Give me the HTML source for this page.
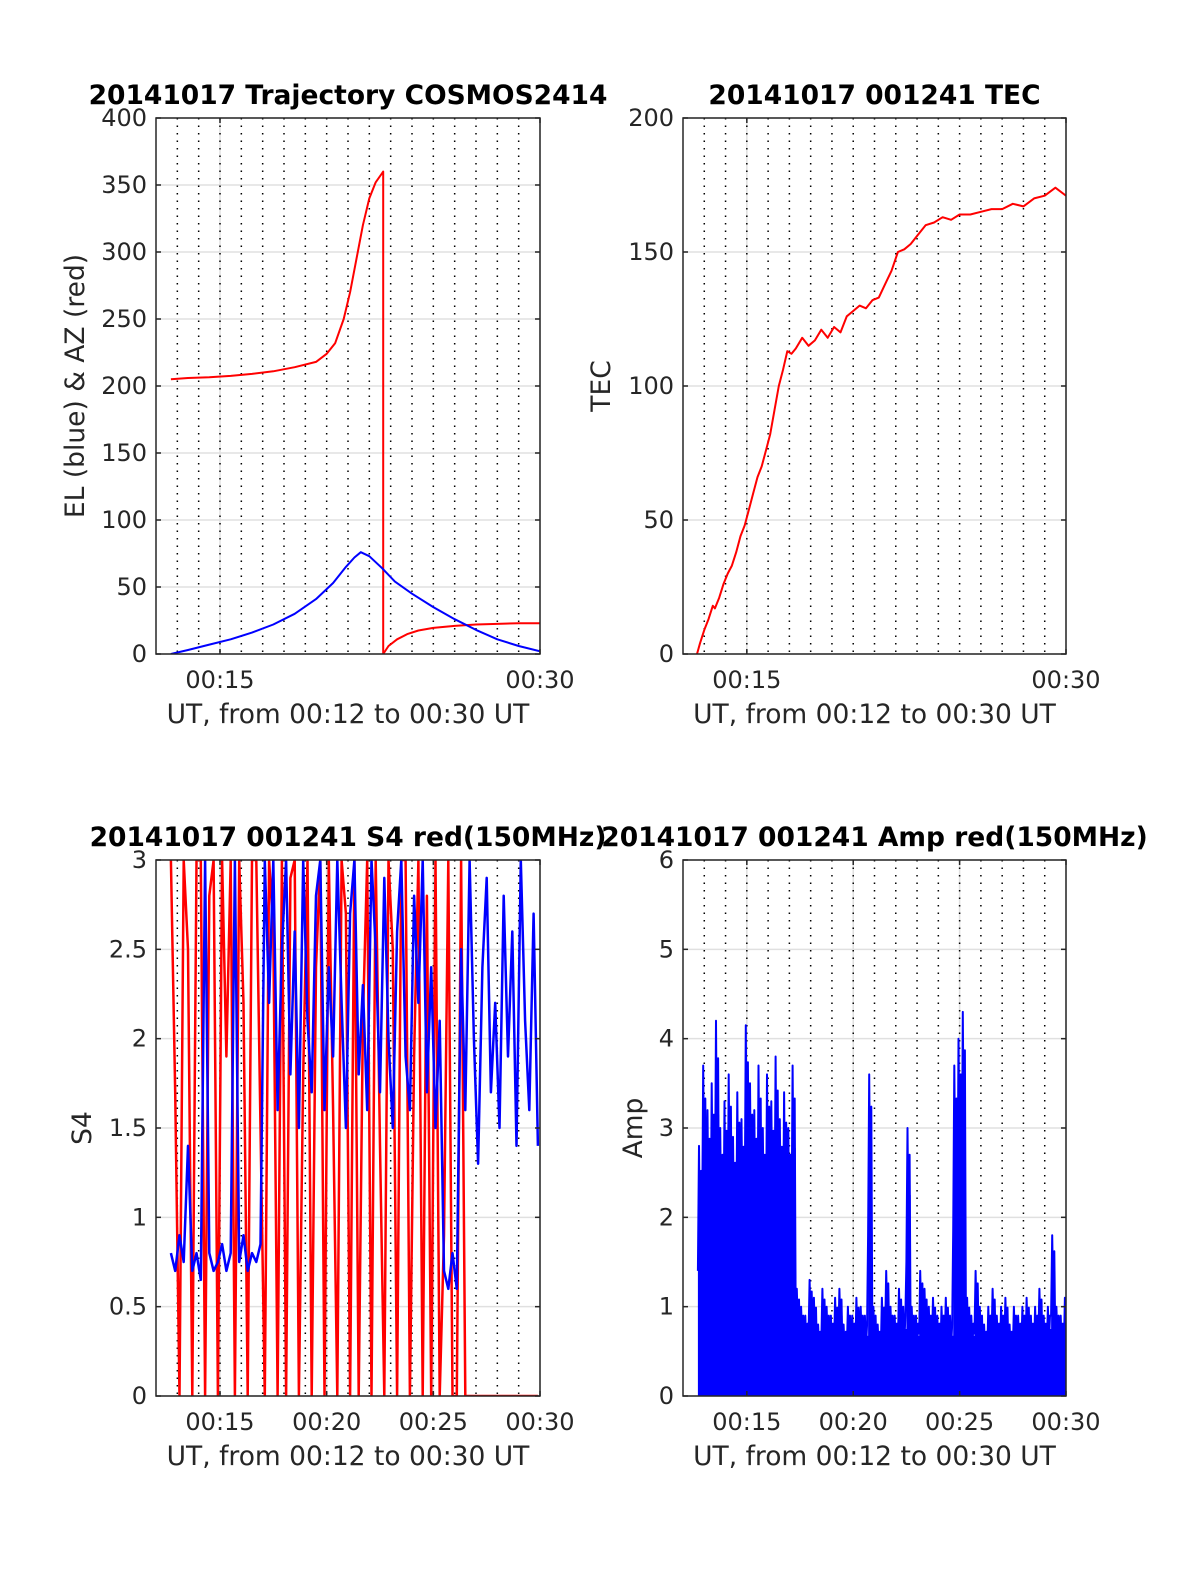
<!DOCTYPE html>
<html><head><meta charset="utf-8"><style>
html,body{margin:0;padding:0;background:#fff;overflow:hidden;width:1200px;height:1575px}
svg{display:block}
svg text{font-family:"DejaVu Sans","Liberation Sans",sans-serif;fill:#262626}
</style></head><body>
<svg id="fig" width="1200" height="1575" viewBox="0 0 1200 1575" xmlns="http://www.w3.org/2000/svg"></svg>
<script>
// ---- data ----
const azT=[12.7,13.5,14.5,15.5,16.5,17.5,18.5,19.5,20,20.4,20.8,21.1,21.4,21.7,22,22.3,22.65];
const azV=[205,206,206.5,207.5,209,211,214,218,224,232,250,270,295,320,340,352,360];
const az2T=[22.65,22.9,23.3,23.8,24.3,25,26,27,28,29,30];
const az2V=[0,6,11,15,17.5,19.5,21,22,22.5,23,23];
const elT=[12.7,13.5,14.5,15.5,16.5,17.5,18.5,19.5,20.3,20.9,21.3,21.6,22,22.6,23.2,24,25,26,27,28,29,30];
const elV=[0,3,7,11,16,22,30,41,53,65,72,76,73,64,54,45,35,26,18,11,6,2];
const tecT=[12.66,12.8,13,13.2,13.4,13.5,13.7,13.9,14.1,14.3,14.5,14.7,14.9,15.1,15.3,15.5,15.7,15.9,16.1,16.3,16.5,16.7,16.9,17.1,17.3,17.6,17.9,18.2,18.5,18.8,19.1,19.4,19.7,20,20.3,20.6,20.9,21.2,21.5,21.8,22.1,22.4,22.7,23,23.4,23.8,24.2,24.6,25,25.5,26,26.5,27,27.5,28,28.5,29,29.5,30];
const tecV=[0,4,9,13,18,17,21,26,30,33,38,44,48,54,60,66,70,76,82,91,100,106,113,112,114,118,115,117,121,118,122,120,126,128,130,129,132,133,138,143,150,151,153,156,160,161,163,162,164,164,165,166,166,168,167,170,171,174,171,172];
const s4Start=12.7, s4Step=0.2;
const s4Blue=[0.8,0.7,0.9,0.75,1.4,0.7,0.8,0.65,3,0.8,0.7,0.75,0.85,0.7,0.8,3,0.75,0.9,0.7,0.8,0.75,0.85,3,
2.2,3,1.6,2.5,3,1.8,2.6,1.5,3,2.1,1.7,2.8,3,1.6,2.4,1.9,3,2.2,1.5,2.7,3,1.8,2.3,1.6,3,2.5,1.7,2.9,2.0,1.5,2.6,3,1.9,1.6,2.8,2.2,3,1.7,2.4,1.5,2.1,
0.7,0.6,0.8,0.6,
2.5,1.6,3,2.0,1.3,2.4,2.9,1.7,2.2,1.5,2.8,1.9,2.6,1.4,3,2.1,1.6,2.7,1.4];
const s4Red=[3,1.7,0,3,2.5,0,3,3,0,2.8,3,0,3,1.9,3,0,3,2.2,0,3,3,1.5,0,3,2.6,0,3,0,2.9,3,0,1.8,3,0,2.4,3,0,3,1.6,0,3,2.7,0,3,0,2.1,3,0,3,1.4,0,3,2.5,0,3,3,0,1.9,3,0,2.8,0,3,0,0.9,3,0,0,3,0,0,0,0,0,0,0,0,0,0,0,0,0,0,0,0,0,0];
const ampV=[2.8,3.7,3.2,3.5,4.2,3.0,3.3,3.6,2.9,3.4,3.1,4.15,3.5,3.2,3.7,3.0,3.6,3.3,3.8,3.1,3.4,3.0,3.7,
1.2,1.0,0.9,1.3,1.1,0.8,1.2,1.0,0.9,1.1,1.2,0.8,1.0,0.9,1.1,1.0,0.9,3.6,1.0,0.8,1.1,1.4,1.0,0.9,1.2,1.0,3.0,1.0,0.9,1.4,1.2,1.0,1.1,0.9,1.0,1.1,0.9,3.7,4.0,4.3,1.1,0.9,1.4,1.0,0.8,1.0,1.2,0.9,1.0,1.1,0.8,1.0,0.9,1.0,1.1,0.9,1.0,1.2,0.9,1.0,1.8,1.0,0.9,1.1];
const xTicks2=["00:15","00:30"], xTickVals2=[15,30];
const xTicks4=["00:15","00:20","00:25","00:30"], xTickVals4=[15,20,25,30];

const NS="http://www.w3.org/2000/svg";
const fig=document.getElementById('fig');
function mk(tag,attrs,parent){const e=document.createElementNS(NS,tag);for(const k in attrs)e.setAttribute(k,attrs[k]);(parent||fig).appendChild(e);return e;}

function panel(id,L,T,R,B,ymax,yticks,xtv,xtl,title,ylabel,ylx){
  const g=mk('g',{});
  
  
  const sx=t=>L+(t-12)/18*(R-L), sy=v=>B-v/ymax*(B-T);
  yticks.forEach(v=>{const l=mk('line',{x1:L,x2:R,y1:sy(v),y2:sy(v),stroke:'#e0e0e0','stroke-width':1.5},g);
    });
  xtv.forEach(v=>{mk('line',{x1:sx(v),x2:sx(v),y1:T,y2:B,stroke:'#e0e0e0','stroke-width':1.5},g);});
  for(let m=13;m<30;m++){const l=mk('line',{x1:sx(m),x2:sx(m),y1:T,y2:B,stroke:'#000','stroke-width':1.5,'stroke-dasharray':'1.5 6'},g);
    }
  const cid='clip-'+id;
  const cp=mk('clipPath',{id:cid},g);mk('rect',{x:L,y:T,width:R-L,height:B-T},cp);
  const plot=mk('g',{'clip-path':'url(#'+cid+')'},g);
  const fr=mk('rect',{x:L,y:T,width:R-L,height:B-T,fill:'none',stroke:'#262626','stroke-width':1.5},g);
  
  yticks.forEach(v=>{const y=sy(v);mk('line',{x1:L,x2:L+5,y1:y,y2:y,stroke:'#262626','stroke-width':1.5},g);mk('line',{x1:R,x2:R-5,y1:y,y2:y,stroke:'#262626','stroke-width':1.5},g);
    const t=mk('text',{x:L-9,y:y+8,'text-anchor':'end','font-size':24},g);t.textContent=String(v);
    });
  xtv.forEach((v,i)=>{const x=sx(v);mk('line',{x1:x,x2:x,y1:B,y2:B-5,stroke:'#262626','stroke-width':1.5},g);mk('line',{x1:x,x2:x,y1:T,y2:T+5,stroke:'#262626','stroke-width':1.5},g);
    const t=mk('text',{x:x,y:B+34,'text-anchor':'middle','font-size':24},g);t.textContent=xtl[i];
    });
  const xl=mk('text',{x:(L+R)/2,y:B+69,'text-anchor':'middle','font-size':26.5},g);xl.textContent='UT, from 00:12 to 00:30 UT';
  
  const ti=mk('text',{x:(L+R)/2,y:T-14,'text-anchor':'middle','font-size':26.5,'font-weight':'bold',style:'fill:#000'},g);ti.textContent=title;
  
  const yx=ylx+9, ym=(T+B)/2;
  const yl=mk('text',{x:yx,y:ym,'text-anchor':'middle','font-size':26.5,transform:'rotate(-90 '+yx+' '+ym+')'},g);yl.textContent=ylabel;
  
  return {plot,sx,sy};
}
function line(p,ts,vs,color,w,name){
  const pts=ts.map((t,i)=>p.sx(t).toFixed(1)+','+p.sy(vs[i]).toFixed(1)).join(' ');
  const e=mk('polyline',{points:pts,fill:'none',stroke:color,'stroke-width':w,'stroke-linejoin':'round'},p.plot);
  
  return e;
}
const timesOf=arr=>arr.map((_,i)=>s4Start+i*s4Step);

const p1=panel('trajectory-panel',156,118,540,654,400,[0,50,100,150,200,250,300,350,400],xTickVals2,xTicks2,'20141017 Trajectory COSMOS2414','EL (blue) & AZ (red)',75);
line(p1,azT.concat([azT[azT.length-1]]),azV.concat([0]),'#ff0000',2,'azimuth-line');
line(p1,az2T,az2V,'#ff0000',2,'azimuth-line-after-wrap');
line(p1,elT,elV,'#0000ff',2,'elevation-line');

const p2=panel('tec-panel',683,118,1066,654,200,[0,50,100,150,200],xTickVals2,xTicks2,'20141017 001241 TEC','TEC',601);
line(p2,tecT,tecV,'#ff0000',2,'tec-line');

const p3=panel('s4-panel',156,860,540,1396,3,[0,0.5,1,1.5,2,2.5,3],xTickVals4,xTicks4,'20141017 001241 S4 red(150MHz)','S4',82);
line(p3,timesOf(s4Red),s4Red,'#ff0000',2.5,'s4-red-line');
line(p3,timesOf(s4Blue),s4Blue,'#0000ff',2.5,'s4-blue-line');

const p4=panel('amp-panel',683,860,1066,1396,6,[0,1,2,3,4,5,6],xTickVals4,xTicks4,'20141017 001241 Amp red(150MHz)','Amp',633);
const ft=[s4Start],fv=[0];
ampV.forEach((v,i)=>{const t=s4Start+i*s4Step;ft.push(t,t+s4Step);fv.push(v*0.75,v*0.75);});
ft.push(s4Start+(ampV.length)*s4Step);fv.push(0);
const fillPts=ft.map((t,i)=>p4.sx(t).toFixed(1)+','+p4.sy(fv[i]).toFixed(1)).join(' ');
const fp=mk('polygon',{points:fillPts,fill:'#0000ff',stroke:'none'},p4.plot);


const at=[],av=[];
ampV.forEach((v,i)=>{const t=s4Start+i*s4Step;at.push(t,t+s4Step*0.25,t+s4Step*0.5,t+s4Step*0.75);av.push(v*0.5,v,v*0.6,v*0.9);});
line(p4,at,av,'#0000ff',2,'amp-line');
</script>
</body></html>
